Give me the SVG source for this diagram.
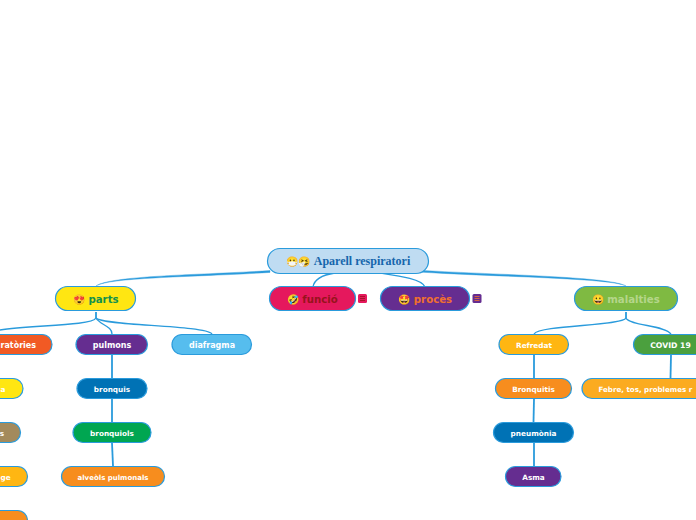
<svg xmlns="http://www.w3.org/2000/svg" width="696" height="520" viewBox="0 0 696 520">
<style>
text{font-family:"DejaVu Sans",Verdana,sans-serif;font-weight:700;text-anchor:middle;fill:#fff}
.n{stroke:#2a9bdc;stroke-width:1.2}
.c{fill:none;stroke:#2a9bdc;stroke-width:1.3}
.t{fill:none;stroke:#2a9bdc;stroke-width:1.8}
.f{fill:#2a9bdc;stroke:#2a9bdc;stroke-width:.4}
.s{font-size:7.300px}
.m{font-size:8px}
.l{font-size:10.200px}
.e{font-family:"Noto Color Emoji","DejaVu Sans",sans-serif;font-weight:400}
</style>
<rect width="696" height="520" fill="#fff"/>
<g id="connectors">
<path class="f" d="M270 270.600C200 275 110 275.500 96 286C110 277 200 277 270 272.400Z"/>
<path class="c" d="M335 273C322 275 314 280 313 287"/>
<path class="c" d="M380 273C400 276 422 279 425 287"/>
<path class="f" d="M422 270.400C500 275 610 276.500 626 286C610 278 500 277 422 272.200Z"/>
<path class="t" d="M96 312V318"/>
<path class="c" d="M96 318C92 326 30 325 0 330"/>
<path class="c" d="M96 318C100 325 112 326 112 334"/>
<path class="c" d="M96 318C102 326 205 325 212 334"/>
<path class="t" d="M112 355V378"/>
<path class="t" d="M112 399V422"/>
<path class="t" d="M112 443L113 466"/>
<path class="t" d="M626 312V318"/>
<path class="c" d="M626 318C622 326 540 325 534 334"/>
<path class="c" d="M626 318C630 326 665 325 671 334"/>
<path class="t" d="M534 355V378"/>
<path class="t" d="M534 399L533.500 422"/>
<path class="t" d="M534 443V466"/>
<path class="t" d="M671 355L670.500 378"/>
</g>
<g id="root"><rect class="n" x="267.500" y="248.500" width="161" height="25" rx="12.500" fill="#bfdcf2"/><text class="e" x="293" y="265" font-size="10">😷</text><text class="e" x="305" y="265" font-size="10">🤧</text><text x="362" y="265" font-size="12" style="font-family:'Liberation Serif',serif;fill:#1666ac">Aparell respiratori</text></g>
<g id="parts"><rect class="n" x="55.500" y="286.500" width="80" height="24" rx="12" fill="#ffe612"/><text class="e" x="80" y="303" font-size="10">😍</text><text class="l" x="103.500" y="303" style="fill:#13914d">parts</text></g>
<g id="funcio"><rect class="n" x="269.500" y="286.500" width="86" height="24" rx="12" fill="#e5185d"/><text class="e" x="294" y="303" font-size="10">🤣</text><text class="l" x="320" y="303" style="fill:#97131b">funció</text></g>
<g id="funcio-note"><rect x="358" y="294" width="9" height="9" rx="1.500" fill="#e5185d"/><path d="M360 296.500H365M360 298.500H365M360 300.500H365" stroke="#97131b" stroke-width=".8"/></g>
<g id="proces"><rect class="n" x="380.500" y="286.500" width="89" height="24" rx="12" fill="#652d90"/><text class="e" x="405" y="303" font-size="10">🤩</text><text class="l" x="433" y="303" style="fill:#f0702e">procès</text></g>
<g id="proces-note"><rect x="472.500" y="294" width="9" height="9" rx="1.500" fill="#652d90"/><path d="M474.500 296.500H479.500M474.500 298.500H479.500M474.500 300.500H479.500" stroke="#f0702e" stroke-width=".8"/></g>
<g id="malalties"><rect class="n" x="574.500" y="286.500" width="103" height="24" rx="12" fill="#7fba42"/><text class="e" x="599" y="303" font-size="10">😀</text><text class="l" x="633.500" y="303" style="fill:#b5d68a">malalties</text></g>
<g id="respiratories"><rect class="n" x="-40" y="334.500" width="92" height="20" rx="10" fill="#f15a24"/><text class="m" x="0.500" y="348" style="text-anchor:start">ratòries</text></g>
<g id="pulmons"><rect class="n" x="76" y="334.500" width="71.500" height="20" rx="10" fill="#652d90"/><text class="m" x="112" y="348">pulmons</text></g>
<g id="diafragma"><rect class="n" x="172" y="334.500" width="79.500" height="20" rx="10" fill="#56bdee"/><text class="m" x="212" y="348">diafragma</text></g>
<g id="n-a"><rect class="n" x="-40" y="378.500" width="63" height="20" rx="10" fill="#ffe612"/><text class="s" x="3" y="392">a</text></g>
<g id="n-s"><rect class="n" x="-40" y="422.500" width="60.500" height="20" rx="10" fill="#a38a5c"/><text class="s" x="2" y="436">s</text></g>
<g id="n-ge"><rect class="n" x="-40" y="466.500" width="67.500" height="20" rx="10" fill="#ffb612"/><text class="s" x="5.500" y="480">ge</text></g>
<g id="n-bottom"><rect class="n" x="-40" y="510.500" width="67.500" height="20" rx="10" fill="#f78d1e"/></g>
<g id="bronquis"><rect class="n" x="77" y="378.500" width="70" height="20" rx="10" fill="#0072b5"/><text class="s" x="112" y="392">bronquis</text></g>
<g id="bronquiols"><rect class="n" x="73" y="422.500" width="78" height="20" rx="10" fill="#00a651"/><text class="s" x="112" y="436">bronquiols</text></g>
<g id="alveols"><rect class="n" x="61.500" y="466.500" width="103" height="20" rx="10" fill="#f78d1e"/><text class="s" x="113" y="480" style="font-size:7px">alveòls pulmonals</text></g>
<g id="refredat"><rect class="n" x="499" y="334.500" width="69.500" height="20" rx="10" fill="#ffb612"/><text class="s" x="534" y="348">Refredat</text></g>
<g id="covid"><rect class="n" x="633.500" y="334.500" width="80" height="20" rx="10" fill="#4ba03e"/><text class="s" x="670.500" y="348" style="font-size:7.700px">COVID 19</text></g>
<g id="bronquitis"><rect class="n" x="495.500" y="378.500" width="76" height="20" rx="10" fill="#f78d1e"/><text class="s" x="533.500" y="392">Bronquitis</text></g>
<g id="febre"><rect class="n" x="582" y="378.500" width="140" height="20" rx="10" fill="#fbab20"/><text class="s" x="598.500" y="392" style="text-anchor:start;font-size:7.100px">Febre, tos, problemes r</text></g>
<g id="pneumonia"><rect class="n" x="493.500" y="422.500" width="80" height="20" rx="10" fill="#0072b5"/><text class="s" x="533.500" y="436">pneumònia</text></g>
<g id="asma"><rect class="n" x="505.500" y="466.500" width="55.500" height="20" rx="10" fill="#652d90"/><text class="s" x="533.500" y="480">Asma</text></g>
</svg>
